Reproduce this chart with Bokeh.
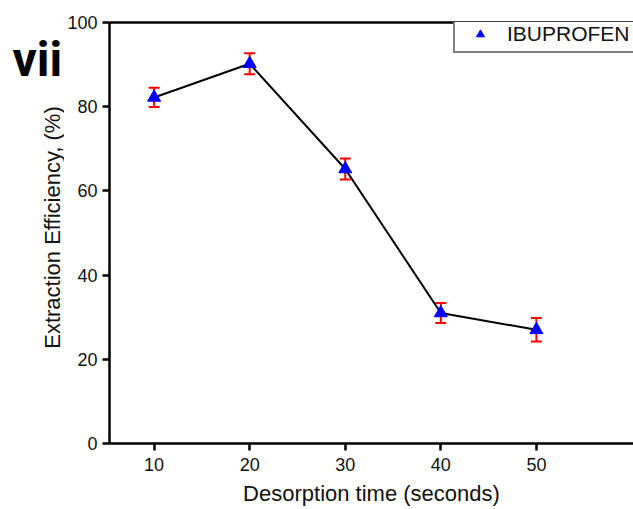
import math
from bokeh.plotting import figure
from bokeh.layouts import row
from bokeh.core.properties import value
from bokeh.models import (ColumnDataSource, Whisker, TeeHead, Legend, LegendItem,
                          LinearAxis, FixedTicker, Range1d)
from bokeh.embed import file_html
from bokeh.resources import INLINE

# Data
times = [10, 20, 30, 40, 50]
efficiency = [82.2, 90.2, 65.2, 31.0, 27.0]
errors = [2.3, 2.5, 2.5, 2.4, 2.8]
x_ticks = [10, 20, 30, 40, 50]
y_ticks = [0, 20, 40, 60, 80, 100]
series_name = "IBUPROFEN"
panel_tag = "vii"
x_title = "Desorption time (seconds)"
y_title = "Extraction Efficiency, (%)"

upper = [v + e for v, e in zip(efficiency, errors)]
lower = [v - e for v, e in zip(efficiency, errors)]
src = ColumnDataSource(dict(x=times, y=efficiency, upper=upper, lower=lower))

FONT = "Liberation Sans"
LEFT_W = 64
TOTAL_W, TOTAL_H = 633, 509
TOP, BOTTOM = 22, 66
FRAME_H = TOTAL_H - TOP - BOTTOM

# ---- left strip: panel tag and y-axis title (frame-pixel ranges) ----
side = figure(width=LEFT_W, height=TOTAL_H, output_backend="svg",
              toolbar_location=None, x_axis_location=None, y_axis_location=None,
              x_range=Range1d(0, LEFT_W), y_range=Range1d(0, FRAME_H),
              min_border_left=0, min_border_right=0, min_border_top=TOP,
              min_border_bottom=BOTTOM)
side.outline_line_color = None
side.grid.visible = False
side.background_fill_color = "white"
side.border_fill_color = "white"
side.text(x=[12], y=[TOTAL_H - BOTTOM - 59], text=[panel_tag],
          text_font=value("Roboto"), text_font_style="bold",
          text_font_size="48px", text_color="black",
          text_align="left", text_baseline="alphabetic")
side.text(x=[52], y=[TOTAL_H - BOTTOM - 227], text=[y_title], angle=math.pi / 2,
          text_font=value(FONT), text_font_size="22px", text_color="#111111",
          text_align="center", text_baseline="middle")

# ---- main plot ----
p = figure(width=TOTAL_W - LEFT_W, height=TOTAL_H, output_backend="svg",
           toolbar_location=None,
           x_range=Range1d(5.33, 60.16), y_range=Range1d(0, 100),
           min_border_left=108 - LEFT_W, min_border_right=0, min_border_top=TOP,
           min_border_bottom=BOTTOM)
p.outline_line_color = None
p.grid.visible = False
p.background_fill_color = "white"
p.border_fill_color = "white"

for ax in (p.xaxis[0], p.yaxis[0]):
    ax.axis_line_width = 2.5
    ax.axis_line_color = "black"
    ax.major_tick_line_width = 2.5
    ax.major_tick_line_color = "black"
    ax.major_tick_out = 7
    ax.major_tick_in = 0
    ax.minor_tick_line_color = None
    ax.major_label_text_font = FONT
    ax.major_label_text_font_size = "18px"
    ax.major_label_text_color = "#111111"
    ax.axis_label_text_font = FONT
    ax.axis_label_text_font_size = "22px"
    ax.axis_label_text_font_style = "normal"
    ax.axis_label_text_color = "#111111"

p.xaxis.ticker = FixedTicker(ticks=x_ticks)
p.yaxis.ticker = FixedTicker(ticks=y_ticks)
p.xaxis.axis_label = x_title
p.xaxis.major_label_standoff = 7
p.yaxis.major_label_standoff = 5
p.xaxis.axis_label_standoff = 7

top_axis = LinearAxis(ticker=FixedTicker(ticks=[]), axis_line_width=2.5,
                      axis_line_color="black", major_tick_line_color=None,
                      minor_tick_line_color=None, major_label_text_font_size="0px",
                      major_label_standoff=0)
p.add_layout(top_axis, "above")

p.line("x", "y", source=src, line_color="black", line_width=2)
whisk = Whisker(source=src, base="x", upper="upper", lower="lower",
                line_color="red", line_width=2,
                upper_head=TeeHead(size=11, line_color="red", line_width=2),
                lower_head=TeeHead(size=11, line_color="red", line_width=2))
p.add_layout(whisk)
pts = p.scatter("x", "y", source=src, marker="triangle", size=13,
                fill_color="blue", line_color="blue")

legend = Legend(items=[LegendItem(label=series_name, renderers=[pts])],
                location=(344, 390), border_line_color="black",
                border_line_width=2.5, label_text_font=FONT,
                label_text_font_size="21px", label_text_color="#111111",
                padding=5, glyph_width=40, label_standoff=7,
                background_fill_alpha=1.0)
p.add_layout(legend)

layout = row(side, p, spacing=0)
open("out.html", "w").write(file_html(layout, INLINE))
